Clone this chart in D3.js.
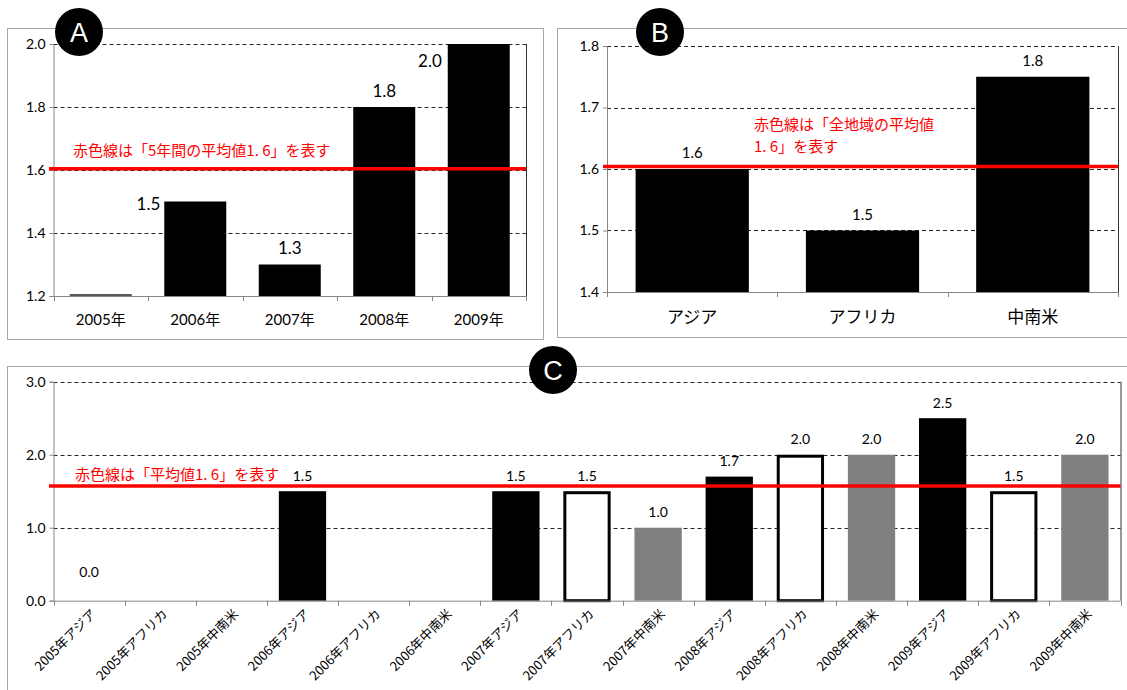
<!DOCTYPE html>
<html>
<head>
<meta charset="utf-8">
<script src="https://cdn.jsdelivr.net/npm/d3@7"></script>
<style>
  body { margin: 0; background: #fff; }
  svg text { font-family: Lato, "Noto Sans CJK JP", sans-serif; }
</style>
</head>
<body>
<svg id="chart" width="1127" height="690"></svg>
<script>
// ---- data ----
var yearsA = ["2005年", "2006年", "2007年", "2008年", "2009年"];
var valuesA = [1.2, 1.5, 1.3, 1.8, 2.0];
var ticksA = [1.2, 1.4, 1.6, 1.8, 2.0];
var avgA = 1.604;
var noteA = ["赤色線は「5年間の平均値1. 6」を表す"];

var regionsB = ["アジア", "アフリカ", "中南米"];
var valuesB = [1.6, 1.5, 1.75];
var ticksB = [1.4, 1.5, 1.6, 1.7, 1.8];
var avgB = 1.604;
var noteB = ["赤色線は「全地域の平均値", "1. 6」を表す"];

var yearsC = ["2005年", "2006年", "2007年", "2008年", "2009年"];
var regionsC = ["アジア", "アフリカ", "中南米"];
var valuesC = [0, null, null, 1.5, null, null, 1.5, 1.5, 1.0, 1.7, 2.0, 2.0, 2.5, 1.5, 2.0];
var ticksC = [0, 1, 2, 3];
var avgC = 1.57;
var noteC = ["赤色線は「平均値1. 6」を表す"];

var fmt = d3.format(".1f");
var svg = d3.select("#chart");

// panel frames (drawn first so the badges sit on top)
function frame(x0, y0, x1, y1) {
    svg.append("rect").attr("x", x0).attr("y", y0).attr("width", x1 - x0).attr("height", y1 - y0)
        .attr("fill", "none").attr("stroke", "#a6a6a6").attr("stroke-width", 1);
}
frame(7.5, 28.5, 543.5, 339.5);
frame(557.5, 28.5, 1140, 337.5);
frame(7.5, 366.5, 1140, 700);

// common axes / grid for one panel
function drawAxes(g, x, y, ticks, tickFont) {
    var r = x.range(), d = y.range();
    ticks.forEach(function (t, i) {
        if (i === 0) return;
        g.append("line").attr("x1", r[0]).attr("x2", r[1])
            .attr("y1", Math.round(y(t)) + 0.5).attr("y2", Math.round(y(t)) + 0.5)
            .attr("stroke", "#262626").attr("stroke-dasharray", "4,3");
    });
    // right edge of plot
    g.append("line").attr("x1", r[1] + 0.5).attr("x2", r[1] + 0.5)
        .attr("y1", d[1]).attr("y2", d[0]).attr("stroke", "#333");
    var yAxis = g.append("g").attr("transform", "translate(" + r[0] + ",0)")
        .call(d3.axisLeft(y).tickValues(ticks).tickFormat(fmt).tickSize(4).tickPadding(4));
    yAxis.select(".domain").attr("stroke", "#868686");
    yAxis.selectAll(".tick line").attr("stroke", "#868686");
    yAxis.selectAll("text").attr("font-size", tickFont).attr("fill", "#000")
        .style("font-family", "Lato, 'Noto Sans CJK JP', sans-serif");
}

function xBase(g, x, yb) {
    var r = x.range();
    g.append("line").attr("x1", r[0]).attr("x2", r[1]).attr("y1", yb + 0.5).attr("y2", yb + 0.5)
        .attr("stroke", "#868686");
    var n = x.domain().length, step = (r[1] - r[0]) / n;
    d3.range(n + 1).forEach(function (i) {
        var xx = Math.round(r[0] + i * step) + 0.5;
        g.append("line").attr("x1", xx).attr("x2", xx).attr("y1", yb).attr("y2", yb + 5)
            .attr("stroke", "#868686");
    });
}

function redLine(g, x, y, v, x0) {
    g.append("line").attr("x1", x0).attr("x2", x.range()[1]).attr("y1", y(v)).attr("y2", y(v))
        .attr("stroke", "#ff0000").attr("stroke-width", 3.5);
}

function note(g, lines, x0, y0, lh) {
    lines.forEach(function (s, i) {
        g.append("text").attr("x", x0).attr("y", y0 + i * lh).attr("dominant-baseline", "central")
            .attr("fill", "#ff0000").attr("font-size", 15)
            .style("font-family", "'Noto Sans CJK JP', sans-serif").text(s);
    });
}

function badge(cx, cy, letter) {
    svg.append("circle").attr("cx", cx).attr("cy", cy).attr("r", 24).attr("fill", "#000");
    svg.append("text").attr("x", cx).attr("y", cy + 1).attr("text-anchor", "middle")
        .attr("dominant-baseline", "central").attr("fill", "#fff").attr("font-size", 27)
        .style("font-family", "'Liberation Sans', Arial, sans-serif").text(letter);
}

// ---- panel A ----
(function () {
    var g = svg.append("g");
    var x = d3.scaleBand().domain(yearsA).range([53.5, 526]).paddingInner(0.344).paddingOuter(0.172);
    var y = d3.scaleLinear().domain([1.2, 2.0]).range([296, 44]);
    drawAxes(g, x, y, ticksA, 14);
    var data = yearsA.map(function (k, i) { return { k: k, v: valuesA[i] }; });
    g.selectAll("rect.bar").data(data).enter().append("rect").attr("class", "bar")
        .attr("x", function (d) { return x(d.k); })
        .attr("width", x.bandwidth())
        .attr("y", function (d) { return Math.min(y(d.v), 294); })
        .attr("height", function (d) { return Math.max(296 - y(d.v), 2); })
        .attr("fill", function (d) { return 296 - y(d.v) < 1 ? "#595959" : "#000"; });
    xBase(g, x, 296);
    // labels: some sit to the left of the bar top
    var side = { "2006年": [-4, 2], "2009年": [-6, 16] };
    data.forEach(function (d) {
        if (296 - y(d.v) < 1) return;
        var t = g.append("text").attr("font-size", 17).attr("dominant-baseline", "central").text(fmt(d.v));
        if (side[d.k]) {
            t.attr("x", x(d.k) + side[d.k][0]).attr("y", y(d.v) + side[d.k][1]).attr("text-anchor", "end");
        } else {
            t.attr("x", x(d.k) + x.bandwidth() / 2).attr("y", y(d.v) - 17).attr("text-anchor", "middle");
        }
    });
    yearsA.forEach(function (k) {
        g.append("text").attr("x", x(k) + x.bandwidth() / 2).attr("y", 319).attr("text-anchor", "middle")
            .attr("dominant-baseline", "central").attr("font-size", 15).text(k);
    });
    redLine(g, x, y, avgA, 49);
    note(g, noteA, 73, 149, 22);
})();

// ---- panel B ----
(function () {
    var g = svg.append("g");
    var x = d3.scaleBand().domain(regionsB).range([607, 1118]).paddingInner(0.335).paddingOuter(0.168);
    var y = d3.scaleLinear().domain([1.4, 1.8]).range([292, 46]);
    drawAxes(g, x, y, ticksB, 14);
    g.selectAll("rect.bar").data(regionsB).enter().append("rect").attr("class", "bar")
        .attr("x", function (d) { return x(d); })
        .attr("width", x.bandwidth())
        .attr("y", function (d, i) { return y(valuesB[i]); })
        .attr("height", function (d, i) { return 292 - y(valuesB[i]); })
        .attr("fill", "#000");
    xBase(g, x, 292);
    regionsB.forEach(function (k, i) {
        g.append("text").attr("x", x(k) + x.bandwidth() / 2).attr("y", y(valuesB[i]) - 17)
            .attr("text-anchor", "middle").attr("dominant-baseline", "central").attr("font-size", 15)
            .text(fmt(valuesB[i]));
        g.append("text").attr("x", x(k) + x.bandwidth() / 2).attr("y", 315).attr("text-anchor", "middle")
            .attr("dominant-baseline", "central").attr("font-size", 17)
            .style("font-family", "'Noto Sans CJK JP', sans-serif").text(k);
    });
    redLine(g, x, y, avgB, 603);
    note(g, noteB, 754, 123, 22);
})();

// ---- panel C ----
(function () {
    var g = svg.append("g");
    var cats = [];
    yearsC.forEach(function (yr) { regionsC.forEach(function (r) { cats.push(yr + r); }); });
    var x = d3.scaleBand().domain(cats).range([53.5, 1120.5]).paddingInner(0.335).paddingOuter(0.168);
    var y = d3.scaleLinear().domain([0, 3]).range([600.7, 381.7]);
    drawAxes(g, x, y, ticksC, 14);
    var fill = { "アジア": "#000", "アフリカ": "#fff", "中南米": "#808080" };
    var data = cats.map(function (c, i) { return { c: c, r: regionsC[i % 3], v: valuesC[i] }; })
        .filter(function (d) { return d.v !== null; });
    g.selectAll("rect.bar").data(data.filter(function (d) { return d.v > 0; })).enter().append("rect")
        .attr("class", "bar")
        .attr("x", function (d) { return x(d.c) + (d.r === "アフリカ" ? 1.5 : 0); })
        .attr("width", function (d) { return x.bandwidth() - (d.r === "アフリカ" ? 3 : 0); })
        .attr("y", function (d) { return y(d.v) + (d.r === "アフリカ" ? 1.5 : 0); })
        .attr("height", function (d) { return 600.7 - y(d.v) - (d.r === "アフリカ" ? 1.5 : 0); })
        .attr("fill", function (d) { return fill[d.r]; })
        .attr("stroke", function (d) { return d.r === "アフリカ" ? "#000" : "none"; })
        .attr("stroke-width", 3);
    xBase(g, x, 600.7);
    data.forEach(function (d) {
        g.append("text").attr("x", x(d.c) + x.bandwidth() / 2).attr("y", y(d.v) - (d.v === 0 ? 29 : 16))
            .attr("text-anchor", "middle").attr("dominant-baseline", "central").attr("font-size", 14)
            .text(fmt(d.v));
    });
    cats.forEach(function (c) {
        var cx = x(c) + x.bandwidth() / 2 + 4;
        g.append("text").attr("transform", "translate(" + cx + ",611) rotate(-45)")
            .attr("text-anchor", "end").attr("dominant-baseline", "central").attr("font-size", 13)
            .style("font-family", "'Noto Sans CJK JP', sans-serif").text(c);
    });
    redLine(g, x, y, avgC, 49);
    note(g, noteC, 75, 473, 22);
})();

badge(79, 32, "A");
badge(660, 32, "B");
badge(553, 370, "C");
</script>
</body>
</html>
